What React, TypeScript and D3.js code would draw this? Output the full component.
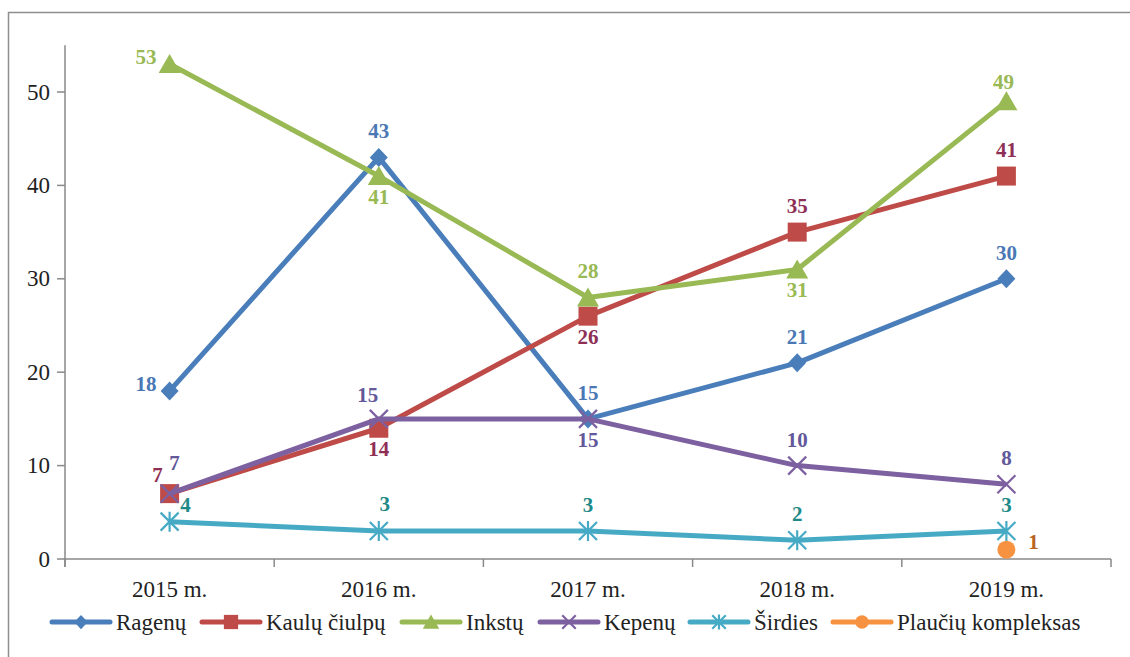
import React from 'react';
import * as d3 from 'd3';

const categories = ['2015 m.', '2016 m.', '2017 m.', '2018 m.', '2019 m.'];
const seriesNames = ['Ragenų', 'Kaulų čiulpų', 'Inkstų', 'Kepenų', 'Širdies', 'Plaučių kompleksas'];
const ragenu: (number | null)[] = [18, 43, 15, 21, 30];
const kaulu: (number | null)[] = [7, 14, 26, 35, 41];
const inkstu: (number | null)[] = [53, 41, 28, 31, 49];
const kepenu: (number | null)[] = [7, 15, 15, 10, 8];
const sirdies: (number | null)[] = [4, 3, 3, 2, 3];
const plauciu: (number | null)[] = [null, null, null, null, 1];
const yTicks = [0, 10, 20, 30, 40, 50];
const yMax = 55;

// label placement keys (styling)
const labelPlacement: string[][] = [
  ['l', 'a', 'a', 'a', 'a'],
  ['al', 'b', 'b', 'a', 'a'],
  ['l', 'b', 'a', 'b', 'a2'],
  ['ar', 'al2', 'b', 'a', 'a'],
  ['ar2', 'as', 'a', 'a', 'a'],
  ['', '', '', '', 'r'],
];
const placeOffsets: Record<string, [number, number, string]> = {
  a: [0, -26, 'middle'],
  a2: [-3, -19, 'middle'],
  as: [6, -27, 'middle'],
  b: [0, 21, 'middle'],
  l: [-13, -7, 'end'],
  r: [27, -8, 'middle'],
  al: [-12, -19, 'middle'],
  al2: [-11, -24, 'middle'],
  ar: [5, -31, 'middle'],
  ar2: [16, -17, 'middle'],
};

const lineColors = ['#4A7EBB', '#BE4B48', '#98B954', '#7D60A0', '#46AAC5', '#F69240'];
const labelColors = ['#4A78B4', '#8E2F56', '#98B954', '#62589A', '#1E8986', '#B8641E'];
const markers = ['diamond', 'square', 'triangle', 'x', 'star', 'circle'];

const FONT = '"Liberation Serif", "Times New Roman", serif';

function markerPath(kind: string, s: number): string {
  switch (kind) {
    case 'diamond':
      return `M0,${-9.5 * s}L${9 * s},0L0,${9.5 * s}L${-9 * s},0Z`;
    case 'square':
      return `M${-9.5 * s},${-9.5 * s}H${9.5 * s}V${9.5 * s}H${-9.5 * s}Z`;
    case 'triangle':
      return `M0,${-10 * s}L${11 * s},${9 * s}L${-11 * s},${9 * s}Z`;
    case 'x':
      return `M${-9 * s},${-9 * s}L${9 * s},${9 * s}M${-9 * s},${9 * s}L${9 * s},${-9 * s}`;
    case 'star':
      return `M${-9 * s},${-9 * s}L${9 * s},${9 * s}M${-9 * s},${9 * s}L${9 * s},${-9 * s}M0,${-10 * s}V${10 * s}`;
    default:
      return '';
  }
}

function Marker({ kind, x, y, color, s }: { kind: string; x: number; y: number; color: string; s: number }) {
  if (kind === 'circle') return <circle cx={x} cy={y} r={9 * s} fill={color} />;
  const stroked = kind === 'x' || kind === 'star';
  return (
    <path
      d={markerPath(kind, s)}
      transform={`translate(${x},${y})`}
      fill={stroked ? 'none' : color}
      stroke={stroked ? color : 'none'}
      strokeWidth={stroked ? 2.2 : 0}
    />
  );
}

export default function App() {
  const W = 1130, H = 657;
  const x = d3.scaleBand<string>().domain(categories).range([65, 1111]).padding(0);
  const y = d3.scaleLinear().domain([0, yMax]).range([559, 45.3]);
  const allSeries = [ragenu, kaulu, inkstu, kepenu, sirdies, plauciu];
  const cx = (c: string) => (x(c) as number) + x.bandwidth() / 2;
  const line = d3
    .line<{ c: string; v: number | null }>()
    .defined((d) => d.v != null)
    .x((d) => cx(d.c))
    .y((d) => y(d.v as number));

  const axisColor = '#898989';
  const boundaries = d3.range(categories.length + 1).map((i) => 65 + i * x.bandwidth());
  const legendStarts = [52, 202, 402, 540, 690, 833];
  const legendY = 622;

  return (
    <svg width={W} height={H} style={{ position: 'absolute', left: 0, top: 0, background: '#fff' }}>
      <rect x={0} y={0} width={W} height={H} fill="#fff" />
      <rect x={8.5} y={12.5} width={1200} height={700} fill="none" stroke="#8e8e8e" strokeWidth={1.5} />
      {/* y axis */}
      <line x1={65} x2={65} y1={y(yMax)} y2={y(0) + 8} stroke={axisColor} strokeWidth={1.5} />
      {yTicks.map((t) => (
        <g key={t}>
          <line x1={57} x2={65} y1={y(t)} y2={y(t)} stroke={axisColor} strokeWidth={1.5} />
          <text x={50} y={y(t)} textAnchor="end" dominantBaseline="central" fontFamily={FONT} fontSize={23} fill="#222">
            {t}
          </text>
        </g>
      ))}
      {/* x axis */}
      <line x1={65} x2={1111} y1={y(0)} y2={y(0)} stroke={axisColor} strokeWidth={1.5} />
      {boundaries.map((b, i) => (
        <line key={i} x1={b} x2={b} y1={y(0)} y2={y(0) + 8} stroke={axisColor} strokeWidth={1.5} />
      ))}
      {categories.map((c) => (
        <text key={c} x={cx(c)} y={597} textAnchor="middle" fontFamily={FONT} fontSize={23} fill="#222">
          {c}
        </text>
      ))}
      {/* series */}
      {allSeries.map((vals, si) => {
        const pts = categories.map((c, i) => ({ c, v: vals[i] }));
        return (
          <g key={si}>
            <path d={line(pts) || ''} fill="none" stroke={lineColors[si]} strokeWidth={5} strokeLinejoin="round" />
            {pts.map((p, i) =>
              p.v == null ? null : (
                <Marker key={i} kind={markers[si]} x={cx(p.c)} y={y(p.v)} color={lineColors[si]} s={1} />
              )
            )}
          </g>
        );
      })}
      {/* labels */}
      {allSeries.map((vals, si) =>
        categories.map((c, i) => {
          const v = vals[i];
          if (v == null) return null;
          const [dx, dy, anchor] = placeOffsets[labelPlacement[si][i]];
          return (
            <text
              key={`${si}-${i}`}
              x={cx(c) + dx}
              y={y(v) + dy}
              textAnchor={anchor}
              dominantBaseline="central"
              fontFamily={FONT}
              fontWeight="bold"
              fontSize={21}
              fill={labelColors[si]}
            >
              {v}
            </text>
          );
        })
      )}
      {/* legend */}
      {seriesNames.map((n, si) => {
        const sx = legendStarts[si];
        return (
          <g key={n}>
            <line x1={sx} x2={sx + 58} y1={legendY} y2={legendY} stroke={lineColors[si]} strokeWidth={5} strokeLinecap="round" />
            <Marker kind={markers[si]} x={sx + 29} y={legendY} color={lineColors[si]} s={0.75} />
            <text x={sx + 64} y={630} fontFamily={FONT} fontSize={23} fill="#222">
              {n}
            </text>
          </g>
        );
      })}
    </svg>
  );
}
